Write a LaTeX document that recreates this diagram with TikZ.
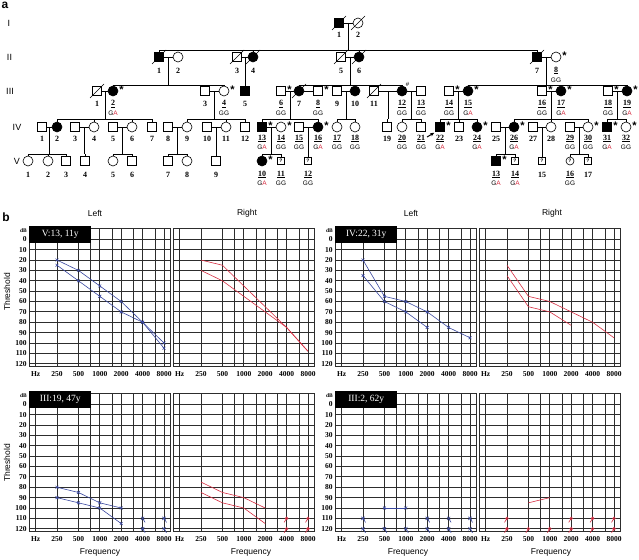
\documentclass[tikz,border=0pt]{standalone}
\usepackage{fontspec}
\setmainfont{Liberation Serif}
\setsansfont{Liberation Sans}
\usetikzlibrary{calc,arrows.meta}

\definecolor{lblue}{RGB}{58,72,160}
\definecolor{rred}{RGB}{214,46,66}
\definecolor{gridc}{RGB}{45,45,45}
\newcommand{\GA}{G\textcolor{rred}{A}}

% audiogram grid, drawn in octave/dB units
\newcommand{\chartgrid}{%
  \draw[grd] (-1.31,-10) rectangle (5.28,123);
  \foreach \o in {-1,0,1,1.585,2,2.585,3,3.585,4,4.585,5} \draw[grd] (\o,-10) -- (\o,123);
  \foreach \d in {0,10,...,120} \draw[grd] (-1.31,\d) -- (5.28,\d);
  \node[ax] at (-1,130) {Hz};
  \foreach \o/\f in {0/250,1/500,2/1000,3/2000,4/4000,5/8000} \node[ax] at (\o,130) {\f};
}
\newcommand{\dbaxis}{%
  \foreach \d in {0,10,...,120} \node[ax,anchor=east] at (-1.40,\d) {\d};
  \node[ax,anchor=east,font=\bfseries\fontsize{5.5}{6}\selectfont] at (-1.40,-8) {dB};
}

\tikzset{
  ind/.style={draw, line width=0.6pt, inner sep=0pt, fill=white},
  mu/.style={ind, rectangle, minimum size=9pt},
  ma/.style={mu, fill=black},
  fu/.style={ind, circle, minimum size=10pt},
  fa/.style={fu, fill=black},
  qm/.style={font=\sffamily\bfseries\fontsize{5}{5}\selectfont, inner sep=0pt},
  mq/.style={ind, rectangle, minimum size=7pt, label={[qm]center:?}},
  fq/.style={ind, circle, minimum size=8pt, label={[qm]center:?}},
  num/.style={font=\bfseries\fontsize{8}{9}\selectfont, inner sep=0pt},
  gt/.style={font=\sffamily\fontsize{6.5}{7}\selectfont, inner sep=0pt},
  gen/.style={font=\sffamily\fontsize{9}{10}\selectfont, inner sep=0pt},
  star/.style={font=\sffamily\bfseries\fontsize{11}{11}\selectfont, inner sep=0pt},
  grd/.style={draw=gridc, line width=0.9pt},
  ax/.style={font=\bfseries\fontsize{7.5}{8}\selectfont, inner sep=0pt},
  lft/.style={lblue, line width=0.6pt},
  rgt/.style={rred, line width=0.6pt},
  lmk/.style={mark=x, mark size=2pt, mark options={line width=0.6pt}},
  rmk/.style={mark=o, mark size=1.6pt, mark options={line width=0.7pt}},
  tag/.style={fill=black, text=white, font=\fontsize{9.5}{10}\selectfont, inner sep=0pt,
    minimum width=62pt, minimum height=17pt, anchor=north west},
  side/.style={font=\sffamily\fontsize{8.5}{9}\selectfont},
  nrx/.pic={\draw[line width=0.6pt] (-1.6pt,-1.6pt) -- (1.6pt,1.6pt) (-1.6pt,1.6pt) -- (1.6pt,-1.6pt) (0pt,0pt) -- (2.5pt,-4pt);},
  nro/.pic={\draw[line width=0.6pt] (0pt,0pt) circle (1.4pt) (0pt,0pt) -- (-2.5pt,-4pt);},
}

\begin{document}
\begin{tikzpicture}[x=1pt, y=-1pt, line width=0.6pt]
\useasboundingbox (0,0) rectangle (639,559);

\node[font=\sffamily\bfseries\fontsize{12}{12}\selectfont] at (5,5) {a};
\node[font=\sffamily\bfseries\fontsize{12}{12}\selectfont] at (6,217) {b};

% ---- pedigree ----
\foreach \g/\x/\y in {I/9/23, II/9.5/57, III/10/91, IV/17/127, V/17/161}
  \node[gen] at (\x,\y) {\g};

\foreach \n/\x/\s/\t in {1/339/ma/1, 2/358/fu/2}
  {\node[\s] (I\n) at (\x,23) {}; \node[num] at (\x,35) {\t};}

\foreach \n/\x/\s/\t in {1/159/ma/1, 2/178/fu/2, 3/237/mu/3, 4/253/fa/4,
    5/341/mu/5, 6/359/fa/6, 7/537/ma/7, 8/556/fu/\underline{8}}
  {\node[\s] (II\n) at (\x,57) {}; \node[num] at (\x,70.5) {\t};}

\foreach \n/\x/\s/\t in {1/97/mu/1, 2/113/fa/\underline{2}, 3/205/mu/3, 4/224/fu/\underline{4},
    5/245/ma/5, 6/281/mu/\underline{6}, 7/299/fa/7, 8/318/mu/\underline{8}, 9/337/mu/9,
    10/355/fa/10, 11/374/mu/11, 12/402/fa/\underline{12}, 13/421/mu/\underline{13},
    14/449/mu/\underline{14}, 15/468/fa/\underline{15}, 16/542/mu/\underline{16},
    17/561/fa/\underline{17}, 18/608/mu/\underline{18}, 19/627/fa/\underline{19}}
  {\node[\s] (III\n) at (\x,91) {}; \node[num] at (\x,104) {\t};}

\foreach \n/\x/\s/\t in {1/42/mu/1, 2/57/fa/2, 3/75/mu/3, 4/94/fu/4, 5/113/mu/5, 6/132/fu/6,
    7/152/mu/7, 8/168/mu/8, 9/187/fu/9, 10/207/mu/10, 11/226/fu/11, 12/245/mu/12,
    13/262/ma/\underline{13}, 14/281/fu/\underline{14}, 15/299/mu/\underline{15},
    16/318/fa/\underline{16}, 17/337/fu/\underline{17}, 18/355/fu/\underline{18},
    19/387/mu/19, 20/402/fu/\underline{20}, 21/421/mu/\underline{21}, 22/440/ma/\underline{22},
    23/459/mu/23, 24/477/fa/\underline{24}, 25/496/mu/25, 26/514/fa/\underline{26},
    27/533/mu/27, 28/551/fu/28, 29/570/mu/\underline{29}, 30/588/fu/\underline{30},
    31/607/ma/\underline{31}, 32/626/fu/\underline{32}}
  {\node[\s] (IV\n) at (\x,127) {}; \node[num] at (\x,138.5) {\t};}

\foreach \n/\x/\s/\t in {1/28/fu/1, 2/48/fu/2, 3/66/mu/3, 4/85/mu/4, 5/113/fu/5, 6/132/mu/6,
    7/168/mu/7, 8/187/fu/8, 9/216/mu/9, 10/262/fa/\underline{10}, 11/281/mq/\underline{11},
    12/308/mq/\underline{12}, 13/496/ma/\underline{13}, 14/515/mq/\underline{14},
    15/542/mq/15, 16/570/fq/\underline{16}, 17/588/mq/17}
  {\node[\s] (V\n) at (\x,161) {}; \node[num] at (\x,174.5) {\t};}

% genotypes
\foreach \n/\y/\g in {II8/80/GG,
    III2/113/\GA, III4/113/GG, III6/113/GG, III8/113/GG, III12/113/GG, III13/113/GG,
    III14/113/GG, III15/113/\GA, III16/113/GG, III17/113/\GA, III18/113/GG, III19/113/\GA,
    IV13/147/\GA, IV14/147/GG, IV15/147/GG, IV16/147/\GA, IV17/147/GG, IV18/147/GG,
    IV20/147/GG, IV21/147/GG, IV22/147/\GA, IV24/147/\GA, IV26/147/\GA, IV29/147/GG,
    IV30/147/GG, IV31/147/\GA, IV32/147/GG,
    V10/183/\GA, V11/183/GG, V12/183/GG, V13/183/\GA, V14/183/\GA, V16/183/GG}
  \node[gt] at (\n |- 0,\y) {\g};

% marriages and descent
\foreach \p/\q/\s/\kids in {I1/I2/50/{II1,II4,II6,II7},
    II1/II2/85/{III2,III4}, II3/II4/85/{III5}, II5/II6/85/{III7,III10,III12},
    II7/II8/85/{III15,III17,III19},
    III1/III2/119/{IV2,IV4,IV6,IV7}, III3/III4/119/{IV9,IV11,IV12},
    III6/III7/119/{IV13,IV16}, III9/III10/119/{IV17,IV18}, III11/III12/119/{IV19},
    III12/III13/119/{IV20,IV21}, III14/III15/119/{IV22,IV23,IV24},
    III16/III17/119/{IV26,IV28,IV30}, III18/III19/119/{IV31,IV32},
    IV1/IV2/154/{V1,V2,V3}, IV3/IV4/154/{V4}, IV5/IV6/154/{V5,V6}, IV8/IV9/154/{V7,V8},
    IV10/IV11/154/{V9}, IV13/IV14/154/{V10,V11}, IV15/IV16/154/{V12},
    IV25/IV26/154/{V13,V14}, IV27/IV28/154/{V15}, IV29/IV30/154/{V16,V17}}
  {
  \draw (\p) -- (\q);
  \coordinate (c) at ($(\p)!.5!(\q)$);
  \draw (c) -- (c |- 0,\s);
  \foreach \k in \kids {\draw (\k.north) -- (\k |- 0,\s) -- (c |- 0,\s);}
  }
\draw (III7) -- (III8);

% deceased
\foreach \n in {I1,I2,II1,II3,II4,II5,II6,II7,III1,III7,III11}
  \draw ([shift={(-7,7)}]\n.center) -- ([shift={(7,-7)}]\n.center);

% examined members
\foreach \n in {II8,III2,III4,III6,III8,III14,III15,III16,III17,III18,III19,
    IV13,IV14,IV16,IV22,IV24,IV26,IV30,IV31,IV32,V10,V13}
  \node[star] at ([shift={(8.5,-1)}]\n.center) {*};
\node[font=\sffamily\fontsize{6}{6}\selectfont, inner sep=0pt] at ([shift={(5.5,-6.5)}]III12.center) {\#};

% proband
\draw[-{Stealth[length=4pt,width=3.5pt]}, line width=1pt] ([shift={(-13,10)}]IV22.center) -- ([shift={(-1,1)}]IV22.south west);

% ---- audiograms ----
\node[side] at (95,213) {Left};
\node[side] at (247,213) {Right};
\node[side] at (411,213) {Left};
\node[side] at (552,213) {Right};
\node[side, rotate=90] at (7,292) {Threshold};
\node[side, rotate=90] at (7,463) {Threshold};
\foreach \x in {100,251,408,551} \node[side] at (\x,552) {Frequency};

% V:13
\begin{scope}[shift={(57,239.3)}, x=21.4pt, y=-1.037pt]
  \chartgrid \dbaxis
  \node[tag] at (-1.31,-13) {V:13, 11y};
  \draw[lft] plot[lmk] coordinates {(0,20) (1,30) (2,45) (3,60) (4,80) (5,100)};
  \draw[lft] plot[lmk] coordinates {(0,25) (1,40) (2,55) (3,70) (4,80) (5,105)};
\end{scope}
\begin{scope}[shift={(201,239.3)}, x=21.4pt, y=-1.037pt]
  \chartgrid
  \draw[rgt] plot[rmk] coordinates {(0,20) (1,25) (2,45) (3,65) (4,85) (5,108)};
  \draw[rgt] plot[rmk] coordinates {(0,30) (1,40) (2,55) (3,70) (4,85) (5,108)};
\end{scope}

% IV:22
\begin{scope}[shift={(363,239.3)}, x=21.4pt, y=-1.037pt]
  \chartgrid \dbaxis
  \node[tag] at (-1.31,-13) {IV:22, 31y};
  \draw[lft] plot[lmk] coordinates {(0,20) (1,55) (2,60) (3,70) (4,85) (5,95)};
  \draw[lft] plot[lmk] coordinates {(0,35) (1,60) (2,70) (3,85)};
\end{scope}
\begin{scope}[shift={(507,239.3)}, x=21.4pt, y=-1.037pt]
  \chartgrid
  \draw[rgt] plot[rmk] coordinates {(0,25) (1,55) (2,60) (3,70) (4,80) (5,95)};
  \draw[rgt] plot[rmk] coordinates {(0,35) (1,65) (2,70) (3,83)};
\end{scope}

% III:19
\begin{scope}[shift={(57,404.3)}, x=21.4pt, y=-1.037pt]
  \chartgrid \dbaxis
  \node[tag] at (-1.31,-13) {III:19, 47y};
  \draw[lft] plot[lmk] coordinates {(0,80) (1,85) (2,95) (3,100)};
  \draw[lft] plot[lmk] coordinates {(0,90) (1,95) (2,100) (3,115)};
  \foreach \o/\d in {4/110,4/120,5/110,5/120} \pic[lblue] at (\o,\d) {nrx};
\end{scope}
\begin{scope}[shift={(201,404.3)}, x=21.4pt, y=-1.037pt]
  \chartgrid
  \draw[rgt] plot[rmk] coordinates {(0,75) (1,85) (2,90) (3,100)};
  \draw[rgt] plot[rmk] coordinates {(0,85) (1,95) (2,100) (3,115)};
  \foreach \o/\d in {4/110,4/120,5/110,5/120} \pic[rred] at (\o,\d) {nro};
\end{scope}

% III:2
\begin{scope}[shift={(363,404.3)}, x=21.4pt, y=-1.037pt]
  \chartgrid \dbaxis
  \node[tag] at (-1.31,-13) {III:2, 62y};
  \draw[lft] plot[lmk] coordinates {(1,100) (2,100)};
  \foreach \o/\d in {0/110,0/120,1/120,2/120,3/110,3/120,4/110,4/120,5/110,5/120}
    \pic[lblue] at (\o,\d) {nrx};
\end{scope}
\begin{scope}[shift={(507,404.3)}, x=21.4pt, y=-1.037pt]
  \chartgrid
  \draw[rgt] plot[rmk] coordinates {(1,95) (2,90)};
  \foreach \o/\d in {0/110,0/120,1/120,2/120,3/110,3/120,4/110,4/120,5/110,5/120}
    \pic[rred] at (\o,\d) {nro};
\end{scope}
\end{tikzpicture}
\end{document}
